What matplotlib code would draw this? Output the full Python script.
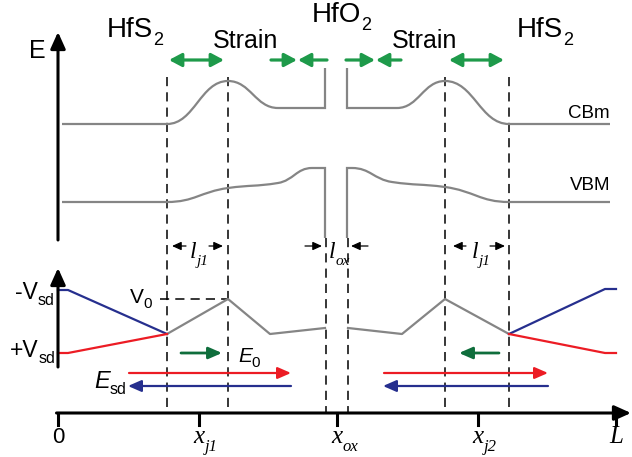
import matplotlib
matplotlib.use('Agg')
import matplotlib.pyplot as plt
from matplotlib.path import Path
from matplotlib.patches import PathPatch, FancyArrowPatch, ArrowStyle

plt.rcParams['font.family'] = 'Liberation Sans'

# band edges (anchor points, pixel-like units, y down)
cb_left_x = [62, 167, 228, 278, 325, 325]
cb_left_y = [124, 124, 81, 108, 108, 68]
vb_left_x = [62, 167, 228, 278, 312, 325, 325]
vb_left_y = [202, 202, 188, 183, 168, 168, 238]
cb_right_x = [347, 347, 397, 445, 509, 610]
cb_right_y = [68, 108, 108, 81, 124, 124]
vb_right_x = [347, 347, 352, 392, 445, 509, 610]
vb_right_y = [238, 168, 168, 182, 187, 202, 202]

# potential profile (lower panel)
pot_left_x = [167, 228, 270, 325]
pot_left_y = [334, 299, 334, 328]
pot_right_x = [348, 402, 445, 509]
pot_right_y = [328, 334, 299, 334]
neg_left_x = [58, 68, 167]
neg_left_y = [290, 290, 334]
pos_left_x = [58, 68, 167]
pos_left_y = [353, 353, 334]
neg_right_x = [509, 605, 616]
neg_right_y = [334, 289, 289]
pos_right_x = [509, 605, 616]
pos_right_y = [334, 353, 353]

# boundaries and ticks
junction_x = [167, 228, 445, 509]
oxide_x = [326, 348]
tick_x = [58, 199, 337, 478, 616]
tick_main = ['0', 'x', 'x', 'x', 'L']
tick_sub = ['', 'j1', 'ox', 'j2', '']

GREY = '#858585'
BLUE = '#262f8e'
RED = '#ec1c24'
GREEN = '#1e9a4a'
DKGREEN = '#0f6e3c'

fig = plt.figure(figsize=(6.32, 4.57), dpi=100)
ax = fig.add_axes([0, 0, 1, 1])
ax.set_xlim(0, 632)
ax.set_ylim(457, 0)
ax.axis('off')


def slopes(xs, ys):
    m = []
    for i in range(len(xs)):
        if i == 0 or i == len(xs) - 1:
            m.append(0.0)
            continue
        dx0, dx1 = xs[i] - xs[i - 1], xs[i + 1] - xs[i]
        if dx0 == 0 or dx1 == 0:
            m.append(0.0)
            continue
        d0 = (ys[i] - ys[i - 1]) / dx0
        d1 = (ys[i + 1] - ys[i]) / dx1
        if d0 * d1 <= 0:
            m.append(0.0)
        else:
            m.append(2 / (1 / d0 + 1 / d1))
    return m


def smooth(xs, ys, k=0.45):
    m = slopes(xs, ys)
    verts = [(xs[0], ys[0])]
    codes = [Path.MOVETO]
    for i in range(1, len(xs)):
        dx = xs[i] - xs[i - 1]
        verts += [(xs[i - 1] + k * dx, ys[i - 1] + m[i - 1] * k * dx),
                  (xs[i] - k * dx, ys[i] - m[i] * k * dx), (xs[i], ys[i])]
        codes += [Path.CURVE4] * 3
    return Path(verts, codes)


def arrow(x0, y0, x1, y1, color, lw, hl, hw, style='-|>', z=3):
    st = ArrowStyle(style, head_length=hl, head_width=hw)
    ax.add_patch(FancyArrowPatch((x0, y0), (x1, y1), arrowstyle=st, mutation_scale=10,
                                 color=color, lw=lw, shrinkA=0, shrinkB=0, zorder=z))


def label(x, y, main, sub, size, subsize, family='Liberation Sans', style='normal',
          ha='left', dy=0.0, dx=0.3, subfamily=None, substyle=None):
    t = ax.text(x, y, main, fontsize=size, family=family, style=style, ha=ha, va='baseline')
    if sub:
        ax.annotate(sub, xy=(1, 0), xycoords=t, xytext=(dx, -dy), textcoords='offset points',
                    fontsize=subsize, family=subfamily or family, style=substyle or style,
                    va='baseline')
    return t


# dashed boundaries
for x in junction_x:
    ax.plot([x, x], [77, 413], color='black', lw=1.1, ls=(0, (6, 4)), zorder=1)
for x in oxide_x:
    ax.plot([x, x], [238, 413], color='black', lw=1.1, ls=(0, (6, 4)), zorder=1)
ax.plot([160, 228], [299, 299], color='black', lw=1.1, ls=(0, (6, 4)), zorder=1)

# bands
for xs, ys in [(cb_left_x, cb_left_y), (vb_left_x, vb_left_y),
               (cb_right_x, cb_right_y), (vb_right_x, vb_right_y)]:
    ax.add_patch(PathPatch(smooth(xs, ys), fc='none', ec=GREY, lw=1.6, zorder=2))

# potential
ax.plot(pot_left_x, pot_left_y, color=GREY, lw=1.6, zorder=2)
ax.plot(pot_right_x, pot_right_y, color=GREY, lw=1.6, zorder=2)
ax.plot(neg_left_x, neg_left_y, color=BLUE, lw=1.6, zorder=2)
ax.plot(pos_left_x, pos_left_y, color=RED, lw=1.6, zorder=2)
ax.plot(neg_right_x, neg_right_y, color=BLUE, lw=1.6, zorder=2)
ax.plot(pos_right_x, pos_right_y, color=RED, lw=1.6, zorder=2)

# axes arrows
arrow(58, 240, 58, 32, 'black', 2.2, 1.0, 0.45)
arrow(58, 367, 58, 268, 'black', 2.2, 1.0, 0.45)
arrow(56.5, 413, 631, 413, 'black', 2.2, 1.0, 0.45)
for x in tick_x:
    ax.plot([x, x], [413, 425], color='black', lw=2.2, zorder=3)

# tick labels
for x, m, s in zip(tick_x, tick_main, tick_sub):
    if m == '0':
        ax.text(x, 443, m, fontsize=16, ha='center', va='baseline')
    else:
        label(x, 443, m, s, 18, 12, family='Liberation Serif', style='italic', ha='center', dy=2)

# green strain arrows
arrow(169, 60, 224, 60, GREEN, 2.3, 0.75, 0.4, style='<|-|>')
arrow(449, 60, 504, 60, GREEN, 2.3, 0.75, 0.4, style='<|-|>')
arrow(271, 60, 297, 60, GREEN, 2.3, 0.75, 0.4)
arrow(327, 60, 298, 60, GREEN, 2.3, 0.75, 0.4)
arrow(346, 60, 375, 60, GREEN, 2.3, 0.75, 0.4)
arrow(401, 60, 376, 60, GREEN, 2.3, 0.75, 0.4)

# fields
arrow(181, 353, 222, 353, DKGREEN, 2.0, 0.8, 0.35)
arrow(499, 353, 459, 353, DKGREEN, 2.0, 0.8, 0.35)
arrow(129, 373, 291, 373, RED, 1.6, 0.8, 0.35)
arrow(291, 386, 128, 386, BLUE, 1.6, 0.8, 0.35)
arrow(384, 373, 548, 373, RED, 1.6, 0.8, 0.35)
arrow(548, 386, 383, 386, BLUE, 1.6, 0.8, 0.35)

# small length arrows
for x0, x1 in [(186, 172), (209, 223), (466, 453), (490, 505), (305, 322), (368, 351)]:
    arrow(x0, 246, x1, 246, 'black', 0.9, 0.55, 0.25)

# text
label(107, 37, 'HfS', '2', 20, 13, dy=1.5, dx=0)
label(517, 37, 'HfS', '2', 20, 13, dy=1.5, dx=0)
label(312, 22, 'HfO', '2', 20, 13, dy=1.5, dx=0)
ax.text(213, 48, 'Strain', fontsize=18, va='baseline')
ax.text(392, 48, 'Strain', fontsize=18, va='baseline')
ax.text(29, 58, 'E', fontsize=18, va='baseline')
ax.text(610, 118, 'CBm', fontsize=13.5, ha='right', va='baseline')
ax.text(610, 190, 'VBM', fontsize=13.5, ha='right', va='baseline')
label(15, 299, '-V', 'sd', 16.5, 11.5, dy=0.5, dx=0)
label(10, 357, '+V', 'sd', 16.5, 11.5, dy=0.5, dx=0)
label(130, 303, 'V', '0', 15, 11, dy=0.5, dx=0)
label(238, 362, 'E', '0', 15, 11, style='italic', dy=0.5, dx=0, substyle='normal')
label(94, 388, 'E', 'sd', 17, 11.5, style='italic', dy=0.5, dx=0, substyle='normal')
label(190, 258, 'l', 'j1', 17, 11, family='Liberation Serif', style='italic', dy=1.5)
label(472, 258, 'l', 'j1', 17, 11, family='Liberation Serif', style='italic', dy=1.5)
label(329, 258, 'l', 'ox', 17, 11, family='Liberation Serif', style='italic', dy=1.5)

fig.savefig('out.png', dpi=100)
